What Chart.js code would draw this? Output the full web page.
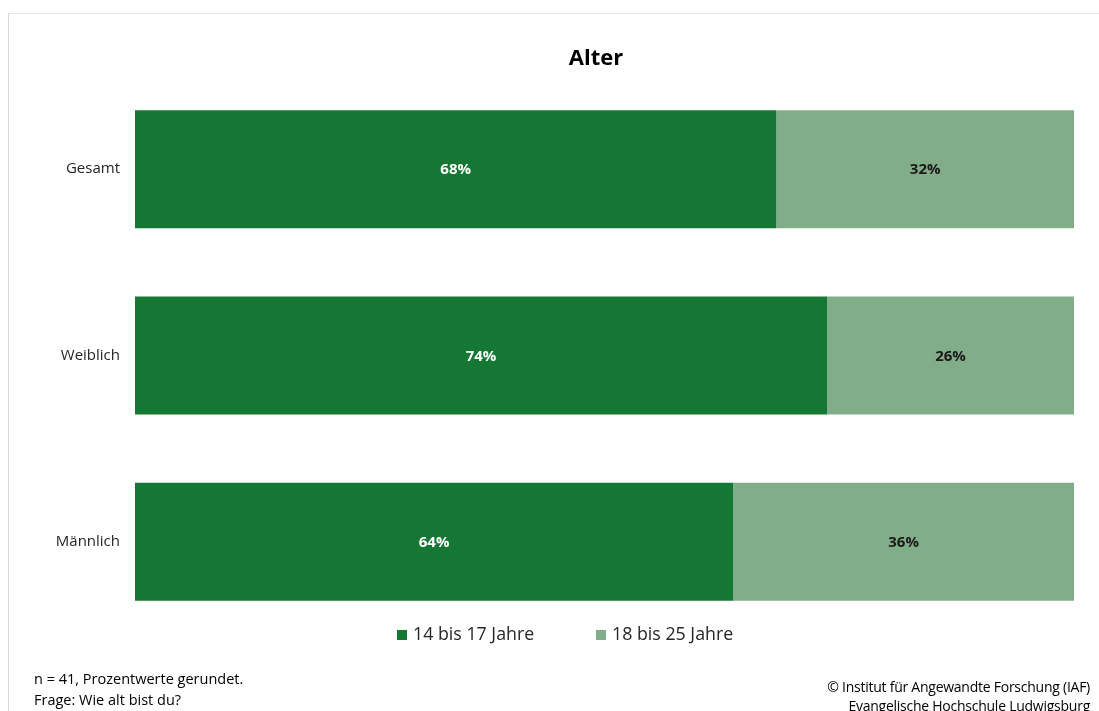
<!DOCTYPE html>
<html>
<head>
<meta charset="utf-8">
<script src="https://cdn.jsdelivr.net/npm/chart.js@4"></script>
<style>
    html, body { margin: 0; padding: 0; background: #fff; }
    body { width: 1099px; height: 711px; position: relative; overflow: hidden; font-family: "Open Sans", sans-serif; }
    #frame { position: absolute; left: 8px; top: 13px; width: 1200px; height: 800px; border-left: 1px solid #d9d9d9; border-top: 1px solid #e6e6e6; }
    #wrap { position: absolute; left: 0; top: 0; width: 1099px; height: 711px; }
    .title { position: absolute; left: 496px; top: 40px; width: 200px; text-align: center; font-size: 22px; font-weight: bold; color: #000; line-height: 32px; }
    .legend { position: absolute; top: 621px; font-size: 17.8px; color: #262626; line-height: 24px; }
    .legend i { display: inline-block; width: 10px; height: 10px; margin-right: 6px; vertical-align: 0px; }
    .note { position: absolute; left: 34px; top: 668px; font-size: 14.5px; color: #000; line-height: 21px; }
    .credit { position: absolute; right: 9px; top: 677px; font-size: 14px; color: #000; line-height: 19px; text-align: right; letter-spacing: -0.25px; }
</style>
</head>
<body>
<div id="frame"></div>
<div id="wrap"><canvas id="chart"></canvas></div>
<div class="title">Alter</div>
<div class="legend" id="legend"></div>
<div class="note">n = 41, Prozentwerte gerundet.<br>Frage: Wie alt bist du?</div>
<div class="credit">© Institut für Angewandte Forschung (IAF)<br>Evangelische Hochschule Ludwigsburg</div>
<script>
// --- DATA ---
const categories = ['Gesamt', 'Weiblich', 'Männlich'];
const seriesNames = ['14 bis 17 Jahre', '18 bis 25 Jahre'];
// shares (labels show them rounded)
const young = [68.3, 73.7, 63.7];   // 14 bis 17 Jahre
const older = [31.7, 26.3, 36.3];   // 18 bis 25 Jahre

const colors = ['#147834', '#82ad89'];
const labelColors = ['#ffffff', '#1a1a1a'];

// HTML legend (overlaps the plot area like in the original)
const legendPos = [397, 596];
const legendEl = document.getElementById('legend');
seriesNames.forEach((name, i) => {
    const span = document.createElement('span');
    span.style.position = 'absolute';
    span.style.left = legendPos[i] + 'px';
    span.style.whiteSpace = 'nowrap';
    span.innerHTML = '<i style="background:' + colors[i] + '"></i>' + name;
    legendEl.appendChild(span);
});

// value labels in the middle of each segment
const valueLabels = {
    id: 'valueLabels',
    afterDatasetsDraw(chart) {
        const ctx = chart.ctx;
        ctx.save();
        ctx.font = 'bold 15px "Open Sans", sans-serif';
        ctx.textAlign = 'center';
        ctx.textBaseline = 'middle';
        chart.data.datasets.forEach((ds, di) => {
            const meta = chart.getDatasetMeta(di);
            ctx.fillStyle = labelColors[di];
            meta.data.forEach((bar, i) => {
                const x = (bar.x + bar.base) / 2;
                ctx.fillText(Math.round(ds.data[i]) + '%', x, bar.y + 1);
            });
        });
        ctx.restore();
    }
};

new Chart(document.getElementById('chart'), {
    type: 'bar',
    data: {
        labels: categories,
        datasets: [
            { label: seriesNames[0], data: young, backgroundColor: colors[0] },
            { label: seriesNames[1], data: older, backgroundColor: colors[1] }
        ]
    },
    options: {
        indexAxis: 'y',
        responsive: true,
        maintainAspectRatio: false,
        animation: false,
        layout: { padding: { top: 76, bottom: 76, right: 25, left: 0 } },
        datasets: { bar: { categoryPercentage: 1, barPercentage: 0.633 } },
        plugins: {
            legend: { display: false },
            tooltip: { enabled: false }
        },
        scales: {
            x: { stacked: true, min: 0, max: 100, display: false },
            y: {
                stacked: true,
                grid: { display: false },
                border: { display: false },
                ticks: { color: '#262626', padding: 7, font: { family: '"Open Sans", sans-serif', size: 15 } },
                afterFit(scale) { scale.width = 135; }
            }
        }
    },
    plugins: [valueLabels]
});
</script>
</body>
</html>
